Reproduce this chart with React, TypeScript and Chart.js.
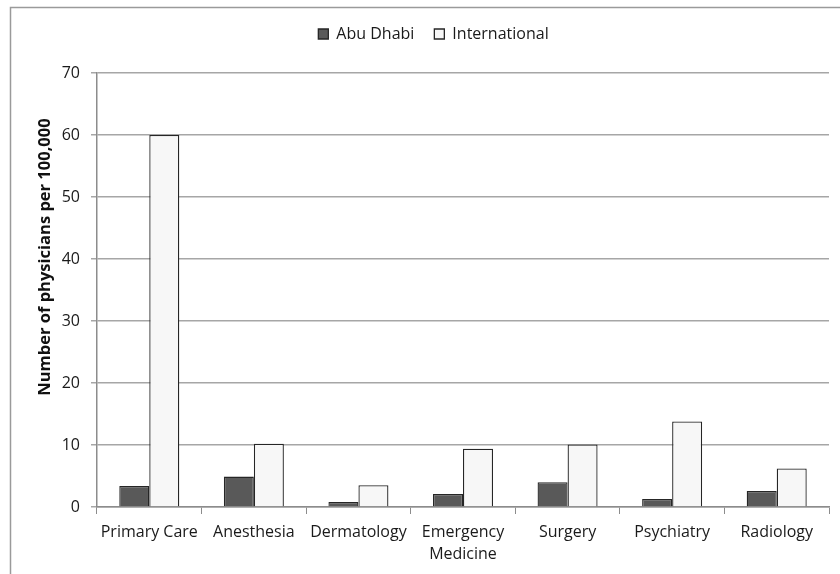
import React, { useEffect, useRef } from "react";
import { Chart, registerables } from "chart.js";

Chart.register(...registerables);

const categories: (string | string[])[] = [
  "Primary Care",
  "Anesthesia",
  "Dermatology",
  ["Emergency", "Medicine"],
  "Surgery",
  "Psychiatry",
  "Radiology",
];
const abuDhabi = [3.4, 4.9, 0.8, 2.1, 4.0, 1.3, 2.6];
const international = [60, 10.2, 3.5, 9.4, 10.1, 13.8, 6.2];
const yTicks = [0, 10, 20, 30, 40, 50, 60, 70];
const yTitle = "Number of physicians per 100,000";

const FONT = "'Open Sans', 'Noto Sans', sans-serif";

const frame = {
  id: "frame",
  beforeDraw(chart: any) {
    const ctx = chart.ctx;
    ctx.save();
    ctx.fillStyle = "#ffffff";
    ctx.fillRect(0, 0, chart.width, chart.height);
    ctx.strokeStyle = "#9a9a9a";
    ctx.lineWidth = 1.5;
    ctx.beginPath();
    ctx.moveTo(10.5, chart.height + 2);
    ctx.lineTo(10.5, 7.5);
    ctx.lineTo(chart.width + 2, 7.5);
    ctx.stroke();
    ctx.restore();
  },
};

// adds space below the legend and nudges it right, like the reference
const legendSpace = {
  id: "legendSpace",
  beforeLayout(chart: any) {
    const lg = chart.legend;
    if (lg && !lg.__patched) {
      const orig = lg.fit;
      lg.fit = function () {
        orig.call(this);
        this.height += 21;
      };
      lg.__patched = true;
    }
  },
  afterLayout(chart: any) {
    const lg = chart.legend;
    if (lg) lg.left += 38;
  },
};

// y-axis title, centred a little above the middle of the plot as in the reference
const yTitlePlugin = {
  id: "yTitlePlugin",
  afterDraw(chart: any) {
    const ctx = chart.ctx;
    const y = chart.scales.y;
    const cy = (y.top + y.bottom) / 2 - 33;
    ctx.save();
    ctx.translate(45, cy);
    ctx.rotate(-Math.PI / 2);
    ctx.textAlign = "center";
    ctx.textBaseline = "middle";
    ctx.fillStyle = "#111";
    ctx.font = `bold 16.5px ${FONT}`;
    ctx.fillText(yTitle, 0, 0);
    ctx.restore();
  },
};

export default function App() {
  const ref = useRef<HTMLCanvasElement>(null);
  useEffect(() => {
    document.body.style.margin = "0";
    const chart = new Chart(ref.current!, {
      type: "bar",
      data: {
        labels: categories,
        datasets: [
          {
            label: "Abu Dhabi",
            data: abuDhabi,
            backgroundColor: "#595959",
            borderColor: "#262626",
            borderWidth: 1.3,
          },
          {
            label: "International",
            data: international,
            backgroundColor: "#f7f7f7",
            borderColor: "#262626",
            borderWidth: 1.3,
          },
        ],
      },
      options: {
        responsive: false,
        animation: false,
        devicePixelRatio: 1,
        layout: { padding: { left: 0, right: 11, top: 6, bottom: 0 } },
        datasets: { bar: { categoryPercentage: 0.574, barPercentage: 1 } },
        plugins: {
          legend: {
            position: "top",
            labels: {
              boxWidth: 10,
              boxHeight: 10,
              padding: 20,
              color: "#1a1a1a",
              font: { family: FONT, size: 16 },
            },
          },
          tooltip: { enabled: false },
        },
        scales: {
          x: {
            afterFit: (s: any) => {
              s.height = 67;
            },
            grid: {
              offset: true,
              drawOnChartArea: false,
              drawTicks: true,
              tickLength: 7,
              color: "#8c8c8c",
            },
            border: { color: "#8c8c8c", width: 1.5 },
            ticks: {
              color: "#1a1a1a",
              padding: 8,
              maxRotation: 0,
              autoSkip: false,
              font: { family: FONT, size: 16, lineHeight: 1.35 },
            },
          },
          y: {
            min: 0,
            max: 70,
            afterFit: (s: any) => {
              s.width = 97;
            },
            afterBuildTicks: (s: any) => {
              s.ticks = yTicks.map((v) => ({ value: v }));
            },
            grid: {
              color: "#a6a6a6",
              lineWidth: 1.5,
              tickLength: 6,
            },
            border: { color: "#8c8c8c", width: 1.5 },
            ticks: {
              color: "#1a1a1a",
              padding: 11,
              font: { family: FONT, size: 16 },
            },
            title: { display: false },
          },
        },
      },
      plugins: [frame, legendSpace, yTitlePlugin],
    });
    return () => chart.destroy();
  }, []);
  return (
    <div style={{ position: "fixed", left: 0, top: 0, width: 840, height: 574 }}>
      <canvas ref={ref} width={840} height={574} style={{ width: 840, height: 574 }} />
    </div>
  );
}
